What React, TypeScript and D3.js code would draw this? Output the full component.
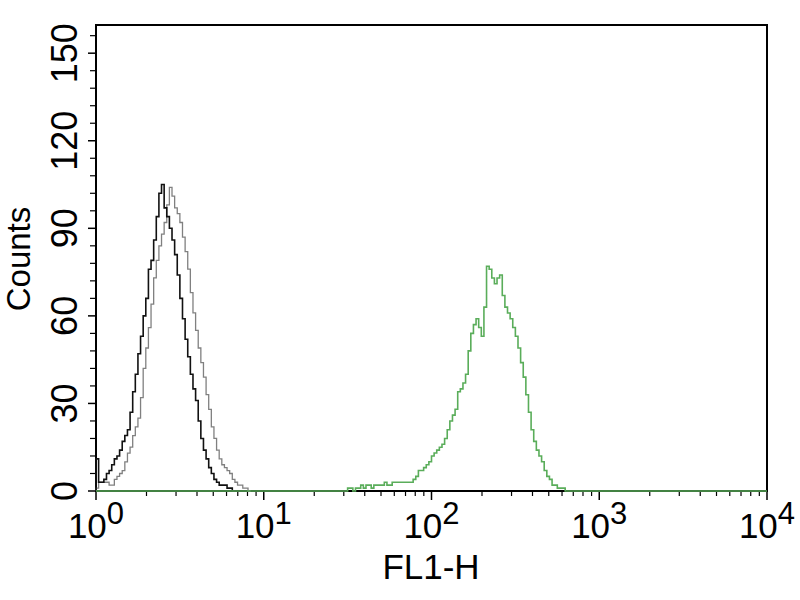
import React from 'react';
import * as d3 from 'd3';

// Histogram channels: 64 channels per decade on a 4-decade log axis (256 channels)
const CHANNELS_PER_DECADE = 64;
const TOTAL_CHANNELS = 256;

const yTickValues = [0, 30, 60, 90, 120, 150];
const xDecadeExponents = [0, 1, 2, 3, 4];

const blackStart = 0;
const blackCounts = [11, 3, 3, 4, 6, 7, 9, 11, 12, 14, 17, 19, 21, 27, 34, 40, 47, 53, 60, 66, 76, 79, 86, 94, 102, 105, 97, 94, 90, 86, 81, 74, 66, 59, 52, 46, 40, 35, 31, 24, 18, 14, 11, 8, 6, 4, 3, 2, 2, 2, 1, 1, 0];

const grayStart = 0;
const grayCounts = [1, 3, 3, 3, 3, 2, 2, 4, 5, 6, 7, 10, 13, 15, 19, 22, 25, 32, 42, 49, 56, 64, 73, 79, 84, 88, 92, 98, 104, 101, 97, 95, 92, 87, 82, 76, 68, 61, 55, 49, 44, 39, 33, 28, 22, 18, 14, 11, 9, 8, 7, 6, 4, 3, 2, 2, 1, 1, 0];

const greenStart = 93;
const greenCounts = [0, 0, 0, 1, 1, 0, 1, 1, 2, 1, 2, 2, 1, 2, 2, 2, 2, 3, 2, 2, 3, 3, 3, 3, 3, 3, 3, 3, 4, 5, 7, 7, 8, 9, 10, 12, 13, 14, 15, 16, 18, 21, 24, 26, 28, 34, 35, 37, 40, 48, 54, 57, 59, 56, 53, 63, 77, 76, 73, 71, 73, 74, 67, 63, 61, 59, 56, 53, 49, 44, 39, 33, 27, 21, 17, 14, 12, 10, 7, 5, 4, 2, 2, 1, 1, 1, 0];

const FONT = "'Liberation Sans', Arial, Helvetica, sans-serif";

type Pt = [number, number];

function channelValue(k: number) {
  return Math.pow(10, k / CHANNELS_PER_DECADE);
}

function buildPoints(start: number, counts: number[], fullRange: boolean): Pt[] {
  const first = fullRange ? 0 : start;
  const last = fullRange ? TOTAL_CHANNELS : start + counts.length;
  const pts: Pt[] = [[channelValue(first), 0]];
  for (let k = first; k < last; k++) {
    const idx = k - start;
    const c = idx >= 0 && idx < counts.length ? counts[idx] : 0;
    pts.push([channelValue(k), c]);
  }
  const lastIdx = last - 1 - start;
  const lastC = lastIdx >= 0 && lastIdx < counts.length ? counts[lastIdx] : 0;
  pts.push([channelValue(last), lastC]);
  return pts;
}

export default function App() {
  const W = 800;
  const H = 600;
  const left = 96, right = 767, top = 25, bottom = 491;
  const x = d3.scaleLog().domain([1, 10000]).range([left, right]);
  const y = d3.scaleLinear().domain([0, 160]).range([bottom, 24]);

  const line = d3
    .line<Pt>()
    .x((d) => x(d[0]))
    .y((d) => y(d[1]))
    .curve(d3.curveStepAfter);

  const blackPath = line(buildPoints(blackStart, blackCounts, false)) || '';
  const grayPath = line(buildPoints(grayStart, grayCounts, false)) || '';
  const greenPath = line(buildPoints(greenStart, greenCounts, true)) || '';

  const yMinor = d3.range(6, 160, 6).filter((v) => v % 30 !== 0);
  const xMinor: number[] = [];
  for (let d = 0; d < 4; d++) {
    for (let m = 2; m <= 9; m++) xMinor.push(m * Math.pow(10, d));
  }

  return (
    <svg
      width={W}
      height={H}
      style={{ position: 'absolute', left: 0, top: 0, background: '#fff' }}
      fontFamily={FONT}
    >
      <rect x={0} y={0} width={W} height={H} fill="#fff" />
      {/* frame */}
      <rect x={left} y={top} width={right - left} height={bottom - top} fill="none" stroke="#000" strokeWidth={2} />

      {/* y ticks */}
      {yTickValues.map((v) => (
        <line key={'ym' + v} x1={left - 8} x2={left} y1={y(v)} y2={y(v)} stroke="#000" strokeWidth={1.5} />
      ))}
      {yMinor.map((v) => (
        <line key={'yn' + v} x1={left - 6} x2={left} y1={y(v)} y2={y(v)} stroke="#000" strokeWidth={1.2} />
      ))}
      {yTickValues.map((v) => (
        <text
          key={'yl' + v}
          transform={`translate(77, ${y(v)}) rotate(-90)`}
          textAnchor="middle"
          fontSize={36}
          fill="#000"
        >
          {v}
        </text>
      ))}

      {/* x ticks */}
      {xDecadeExponents.map((e) => (
        <line key={'xm' + e} x1={x(Math.pow(10, e))} x2={x(Math.pow(10, e))} y1={bottom} y2={bottom + 9} stroke="#000" strokeWidth={1.5} />
      ))}
      {xMinor.map((v) => (
        <line key={'xn' + v} x1={x(v)} x2={x(v)} y1={bottom} y2={bottom + 5} stroke="#000" strokeWidth={1.2} />
      ))}
      {xDecadeExponents.map((e) => (
        <text key={'xl' + e} x={x(Math.pow(10, e))} y={538} textAnchor="middle" fontSize={35} fill="#000">
          10
          <tspan dy={-14} fontSize={31}>
            {e}
          </tspan>
        </text>
      ))}

      {/* axis titles */}
      <text x={431} y={579} textAnchor="middle" fontSize={35} fill="#000">
        FL1-H
      </text>
      <text transform={`translate(30, 259) rotate(-90)`} textAnchor="middle" fontSize={33} fill="#000">
        Counts
      </text>

      {/* histograms */}
      <path d={grayPath} fill="none" stroke="#808080" strokeWidth={1.3} />
      <path d={blackPath} fill="none" stroke="#111" strokeWidth={1.6} />
      <path d={greenPath} fill="none" stroke="#5aad5a" strokeWidth={1.6} />
    </svg>
  );
}
